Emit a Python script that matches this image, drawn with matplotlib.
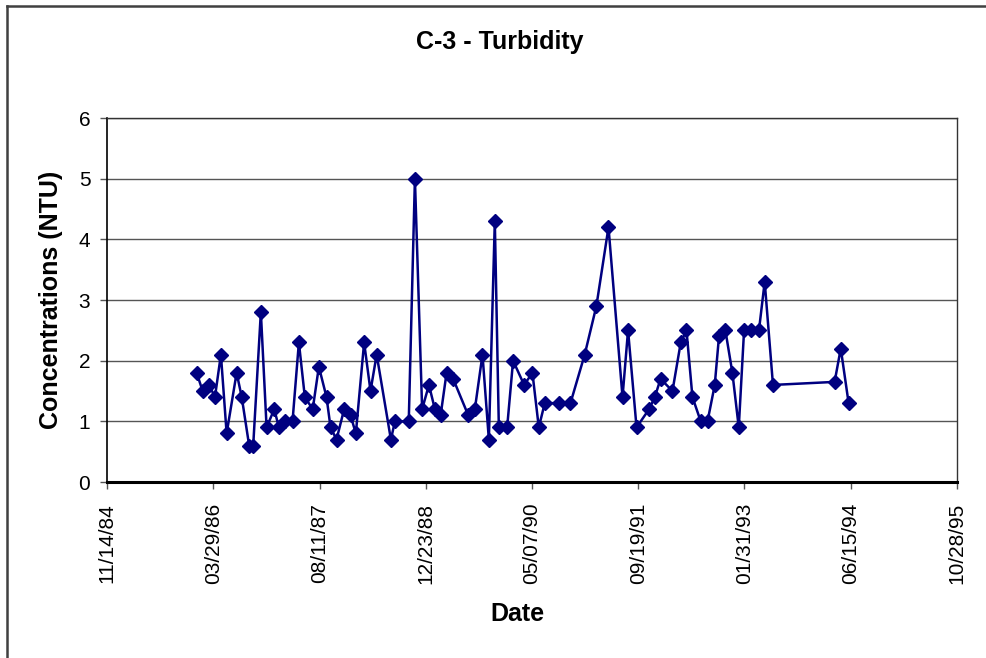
import matplotlib
matplotlib.use("Agg")
import matplotlib.pyplot as plt
import matplotlib.dates as mdates
from matplotlib.lines import Line2D
from datetime import datetime

# ---- data ----
dates = [
    "1986-01-10", "1986-02-07", "1986-03-09", "1986-04-06", "1986-05-04", "1986-05-31",
    "1986-07-17", "1986-08-10", "1986-09-14", "1986-10-03", "1986-11-08", "1986-12-05",
    "1987-01-10", "1987-02-01", "1987-03-01", "1987-04-06", "1987-05-06", "1987-06-03",
    "1987-07-10", "1987-08-08", "1987-09-13", "1987-10-02", "1987-10-30", "1987-12-05",
    "1988-01-04", "1988-01-29", "1988-03-08", "1988-04-07", "1988-05-06", "1988-07-12",
    "1988-07-31", "1988-10-04", "1988-11-02", "1988-12-06", "1989-01-07", "1989-02-04",
    "1989-03-03", "1989-03-31", "1989-05-01", "1989-07-11", "1989-08-11", "1989-09-16",
    "1989-10-16", "1989-11-13", "1989-12-02", "1990-01-10", "1990-02-07", "1990-03-31",
    "1990-05-09", "1990-06-08", "1990-07-06", "1990-09-12", "1990-11-04", "1991-01-10",
    "1991-03-06", "1991-05-02", "1991-07-07", "1991-08-02", "1991-09-11", "1991-11-09",
    "1991-12-06", "1992-01-02", "1992-02-27", "1992-04-06", "1992-05-03", "1992-05-31",
    "1992-07-09", "1992-08-10", "1992-09-13", "1992-10-03", "1992-11-02", "1992-12-05",
    "1993-01-04", "1993-01-29", "1993-03-01", "1993-04-09", "1993-05-06", "1993-06-14",
    "1994-03-31", "1994-04-29", "1994-06-05",
]
turbidity = [
    1.8, 1.5, 1.6, 1.4, 2.1, 0.8,
    1.8, 1.4, 0.6, 0.6, 2.8, 0.9,
    1.2, 0.9, 1.0, 1.0, 2.3, 1.4,
    1.2, 1.9, 1.4, 0.9, 0.7, 1.2,
    1.1, 0.8, 2.3, 1.5, 2.1, 0.7,
    1.0, 1.0, 5.0, 1.2, 1.6, 1.2,
    1.1, 1.8, 1.7, 1.1, 1.2, 2.1,
    0.7, 4.3, 0.9, 0.9, 2.0, 1.6,
    1.8, 0.9, 1.3, 1.3, 1.3, 2.1,
    2.9, 4.2, 1.4, 2.5, 0.9, 1.2,
    1.4, 1.7, 1.5, 2.3, 2.5, 1.4,
    1.0, 1.0, 1.6, 2.4, 2.5, 1.8,
    0.9, 2.5, 2.5, 2.5, 3.3, 1.6,
    1.65, 2.2, 1.3,
]
x_tick_labels = ["11/14/84", "03/29/86", "08/11/87", "12/23/88", "05/07/90",
                 "09/19/91", "01/31/93", "06/15/94", "10/28/95"]
y_ticks = [0, 1, 2, 3, 4, 5, 6]

title = "C-3 - Turbidity"
x_label = "Date"
y_label = "Concentrations (NTU)"

# ---- plot ----
plt.rcParams['font.family'] = ['Liberation Sans', 'DejaVu Sans']

W, H = 987, 658
fig = plt.figure(figsize=(W / 100, H / 100), dpi=100)
fig.patch.set_facecolor("white")

ax = fig.add_axes([107 / W, 1 - 482 / H, 850 / W, 364 / H])

x_dates = [datetime.strptime(d, "%Y-%m-%d") for d in dates]
tick_dates = [datetime.strptime(t, "%m/%d/%y") for t in x_tick_labels]

ax.plot(x_dates, turbidity, color="#000080", linewidth=1.8, marker="D",
        markersize=7, markerfacecolor="#000080", markeredgecolor="#000080",
        zorder=3, clip_on=False)

ax.set_xlim(tick_dates[0], tick_dates[-1])
ax.set_ylim(y_ticks[0], y_ticks[-1])
ax.set_xticks(tick_dates)
ax.xaxis.set_major_formatter(mdates.DateFormatter("%m/%d/%y"))
ax.set_yticks(y_ticks)

ax.grid(axis="y", color="#555555", linewidth=1.0, zorder=0)
ax.set_axisbelow(True)

for s in ["top", "right"]:
    ax.spines[s].set_color("#333333")
    ax.spines[s].set_linewidth(1.0)
ax.spines["left"].set_color("black")
ax.spines["left"].set_linewidth(1.2)
ax.spines["bottom"].set_color("black")
ax.spines["bottom"].set_linewidth(2.2)

ax.tick_params(axis="x", direction="out", length=5, width=1, color="#555555",
               labelsize=15, labelrotation=90, pad=10)
ax.tick_params(axis="y", direction="out", length=5, width=1, color="#555555",
               labelsize=15, pad=7)

fig.text(500 / W, 1 - 42 / H, title, ha="center", va="center",
         fontsize=18, fontweight="bold")
fig.text(517 / W, 1 - 614 / H, x_label, ha="center", va="center",
         fontsize=18, fontweight="bold")
fig.text(51 / W, 1 - 300 / H, y_label, ha="center", va="center",
         fontsize=18, fontweight="bold", rotation=90)

# outer chart border (left and top visible)
fig.add_artist(Line2D([7 / W, 7 / W], [0, 1 - 6 / H], transform=fig.transFigure,
                      color="#404040", linewidth=1.8))
fig.add_artist(Line2D([7 / W, 1], [1 - 6 / H, 1 - 6 / H], transform=fig.transFigure,
                      color="#404040", linewidth=1.8))

fig.savefig("out.png", dpi=100)
